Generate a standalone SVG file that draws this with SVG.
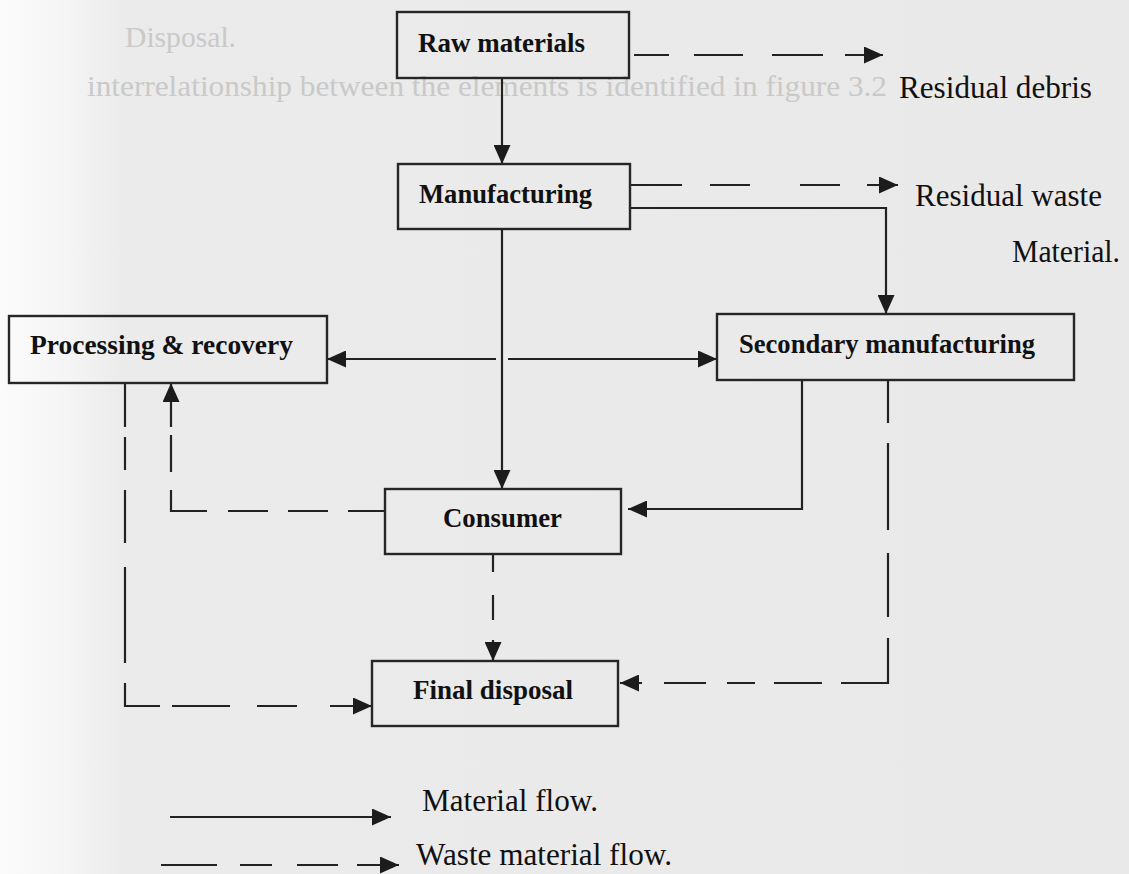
<svg xmlns="http://www.w3.org/2000/svg" width="1129" height="874" viewBox="0 0 1129 874">
  <defs>
    <linearGradient id="bg" x1="0" y1="0" x2="1129" y2="0" gradientUnits="userSpaceOnUse">
      <stop offset="0" stop-color="#fbfbfb"/>
      <stop offset="0.05" stop-color="#f6f6f6"/>
      <stop offset="0.11" stop-color="#ebebeb"/>
      <stop offset="1" stop-color="#e9e9e9"/>
    </linearGradient>
    <marker id="ah" markerUnits="userSpaceOnUse" markerWidth="19" markerHeight="17" viewBox="0 0 19 17" refX="19" refY="8.5" orient="auto">
      <path d="M0,0 L19,8.5 L0,17 z" fill="#1c1c1c"/>
    </marker>
  </defs>
  <style>
    .box { fill: none; stroke: #262626; stroke-width: 2.4; }
    .lbl { font-family: "Liberation Serif", "Times New Roman", serif; font-size: 27px; font-weight: bold; fill: #111; }
    .txt { font-family: "Liberation Serif", "Times New Roman", serif; font-size: 30.5px; fill: #111; }
    .ghost { font-family: "Liberation Serif", "Times New Roman", serif; font-size: 30px; fill: #c9c9c9; }
    .ln { fill: none; stroke: #222; stroke-width: 2.2; }
  </style>

  <rect x="0" y="0" width="1129" height="874" fill="url(#bg)"/>

  <g id="page-text">
    <text class="ghost" x="125" y="47" textLength="111" lengthAdjust="spacingAndGlyphs">Disposal.</text>
    <text class="ghost" x="87" y="96" textLength="800" lengthAdjust="spacingAndGlyphs">interrelationship between the elements is identified in figure 3.2</text>
  </g>

  <g id="connectors">
    <!-- material flow (solid) -->
    <path class="ln" d="M502,78 L502,164" marker-end="url(#ah)"/>
    <path class="ln" d="M502,229 L502,489" marker-end="url(#ah)"/>
    <path class="ln" d="M496,359 L327,359" marker-end="url(#ah)"/>
    <path class="ln" d="M508,359 L717,359" marker-end="url(#ah)"/>
    <path class="ln" d="M630,208 L886,208 L886,314" marker-end="url(#ah)"/>
    <path class="ln" d="M802,380 L802,509 L628,509" marker-end="url(#ah)"/>
    <!-- waste flow (dashed) -->
    <path class="ln" d="M634,55 L669,55 M694,55 L743,55 M772,55 L823,55 M845,55 L883,55" marker-end="url(#ah)"/>
    <path class="ln" d="M630,185 L682,185 M710,185 L750,185 M800,185 L840,185 M867,185 L898,185" marker-end="url(#ah)"/>
    <path class="ln" d="M385,511 L348,511 M328,511 L288,511 M268,511 L228,511 M207,511 L171,511 L171,490 M171,472 L171,435 M171,427 L171,383" marker-end="url(#ah)"/>
    <path class="ln" d="M125,383 L125,427 M125,437 L125,470 M125,490 L125,543 M125,567 L125,663 M125,683 L125,706 L160,706 M172,706 L230,706 M257,706 L297,706 M330,706 L372,706" marker-end="url(#ah)"/>
    <path class="ln" d="M888,380 L888,423 M888,443 L888,530 M888,553 L888,617 M888,638 L888,683 L841,683 M822,683 L774,683 M755,683 L727,683 M706,683 L664,683 M642,683 L620,683" marker-end="url(#ah)"/>
    <path class="ln" d="M493,554 L493,572 M493,595 L493,620 M493,640 L493,661" marker-end="url(#ah)"/>
  </g>

  <g id="raw-materials">
    <rect class="box" x="397" y="12" width="232" height="66"/>
    <text class="lbl" x="418" y="52" textLength="167" lengthAdjust="spacingAndGlyphs">Raw materials</text>
  </g>
  <g id="residual-debris">
    <text class="txt" x="899" y="98" textLength="193" lengthAdjust="spacingAndGlyphs">Residual debris</text>
  </g>
  <g id="manufacturing">
    <rect class="box" x="398" y="164" width="232" height="65"/>
    <text class="lbl" x="419" y="203" textLength="173" lengthAdjust="spacingAndGlyphs">Manufacturing</text>
  </g>
  <g id="residual-waste">
    <text class="txt" x="915" y="206" textLength="187" lengthAdjust="spacingAndGlyphs">Residual waste</text>
    <text class="txt" x="1012" y="262" textLength="108" lengthAdjust="spacingAndGlyphs">Material.</text>
  </g>
  <g id="processing-recovery">
    <rect class="box" x="9" y="316" width="318" height="67"/>
    <text class="lbl" x="30" y="354" textLength="263" lengthAdjust="spacingAndGlyphs">Processing &amp; recovery</text>
  </g>
  <g id="secondary-manufacturing">
    <rect class="box" x="717" y="314" width="357" height="66"/>
    <text class="lbl" x="739" y="353" textLength="296" lengthAdjust="spacingAndGlyphs">Secondary manufacturing</text>
  </g>
  <g id="consumer">
    <rect class="box" x="385" y="489" width="236" height="65"/>
    <text class="lbl" x="443" y="527" textLength="119" lengthAdjust="spacingAndGlyphs">Consumer</text>
  </g>
  <g id="final-disposal">
    <rect class="box" x="372" y="661" width="246" height="65"/>
    <text class="lbl" x="413" y="699" textLength="160" lengthAdjust="spacingAndGlyphs">Final disposal</text>
  </g>

  <g id="legend">
    <path class="ln" d="M170,817 L391,817" marker-end="url(#ah)"/>
    <text class="txt" x="422" y="811" textLength="176" lengthAdjust="spacingAndGlyphs">Material flow.</text>
    <path class="ln" d="M161,865 L217,865 M240,865 L272,865 M297,865 L338,865 M357,865 L399,865" marker-end="url(#ah)"/>
    <text class="txt" x="416" y="865" textLength="256" lengthAdjust="spacingAndGlyphs">Waste material flow.</text>
  </g>
</svg>
